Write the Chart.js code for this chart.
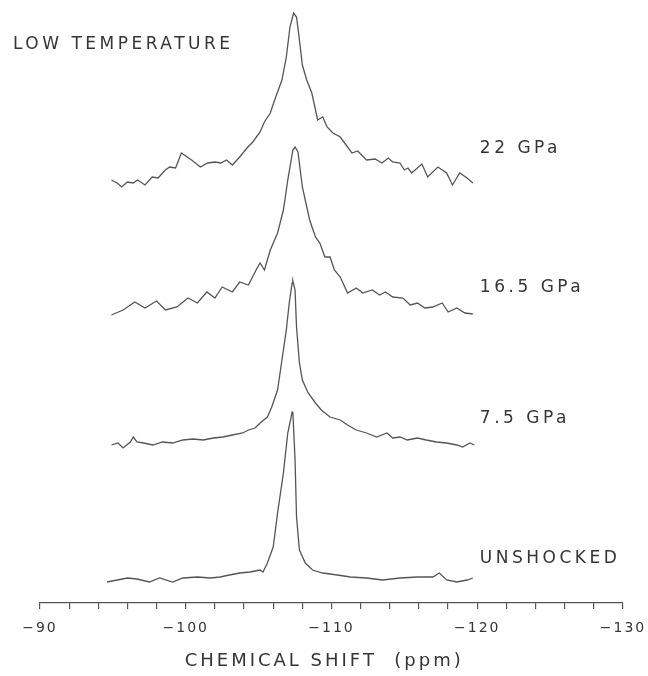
<!DOCTYPE html>
<html>
<head>
<meta charset="utf-8">
<script src="https://cdn.jsdelivr.net/npm/chart.js@4.4.1/dist/chart.umd.min.js"></script>
<style>
  html, body { margin: 0; padding: 0; background: #fff; }
  #wrap { width: 648px; height: 676px; }
</style>
</head>
<body>
<div id="wrap"><canvas id="nmrChart" width="648" height="676"></canvas></div>
<script>
// spectrum names, top to bottom
const names = ['22 GPa', '16.5 GPa', '7.5 GPa', 'UNSHOCKED'];
// vertical offset of each trace (arbitrary intensity units)
const offsets = [420, 288, 158, 22];

// chemical shift (ppm) and intensity (arb. units) for each trace
const ppm22 = [-94.9, -95.3, -95.6, -96.0, -96.4, -96.7, -97.2, -97.7, -98.1, -98.6, -98.9, -99.3, -99.7, -100.1, -100.4,
  -101.0, -101.5, -102.0, -102.4, -102.8, -103.2, -103.7, -104.2, -104.6, -105.1, -105.4, -105.8, -106.1, -106.6, -106.9,
  -107.15, -107.4, -107.6, -107.8, -108.0, -108.3, -108.65, -109.05, -109.4, -109.7, -110.1, -110.6, -110.9, -111.4, -111.8,
  -112.4, -113.0, -113.45, -113.9, -114.2, -114.7, -115.0, -115.25, -115.5, -116.2, -116.6, -117.3, -117.9, -118.3, -118.8,
  -119.3, -119.7];
const int22 = [3, 0, -4, 1, 0, 3, -2, 6, 5, 13, 16, 15, 30, 26, 23,
  16, 20, 21, 20, 23, 18, 26, 35, 41, 51, 61, 70, 83, 103, 126,
  156, 170, 166, 143, 118, 103, 90, 63, 66, 56, 50, 46, 40, 30, 32,
  23, 24, 20, 25, 21, 20, 13, 15, 10, 19, 6, 16, 10, -2, 10,
  5, 0];

const ppm165 = [-94.9, -95.7, -96.5, -97.2, -98.0, -98.6, -99.4, -100.15, -100.8, -101.45, -102.0, -102.5, -103.2, -103.7,
  -104.3, -104.9, -105.1, -105.4, -105.8, -106.3, -106.7, -107.0, -107.35, -107.5, -107.7, -108.0, -108.5, -108.9, -109.2,
  -109.55, -109.9, -110.2, -110.6, -111.1, -111.7, -112.15, -112.8, -113.3, -113.7, -114.2, -114.9, -115.4, -115.9, -116.4,
  -116.95, -117.6, -118.0, -118.6, -119.15, -119.7];
const int165 = [0, 5, 13, 7, 14, 5, 8, 17, 12, 23, 17, 28, 23, 33,
  30, 47, 52, 45, 65, 82, 105, 135, 165, 168, 163, 128, 95, 78, 72,
  58, 58, 45, 38, 22, 27, 22, 25, 20, 23, 18, 17, 10, 12, 7,
  8, 12, 3, 7, 2, 1];

const ppm75 = [-94.9, -95.35, -95.7, -96.2, -96.4, -96.65, -97.1, -97.75, -98.4, -99.1, -99.8, -100.5, -101.2, -101.9,
  -102.55, -103.2, -103.9, -104.3, -104.75, -105.1, -105.6, -105.9, -106.3, -106.6, -106.9, -107.1, -107.3, -107.35, -107.5,
  -107.6, -107.8, -108.0, -108.4, -108.9, -109.3, -109.9, -110.6, -111.1, -111.7, -112.4, -113.1, -113.8, -114.2, -114.7,
  -115.2, -115.9, -116.5, -117.2, -117.9, -118.6, -119.0, -119.5, -119.8];
const int75 = [0, 2, -3, 3, 8, 3, 2, 0, 3, 2, 5, 6, 5, 7,
  8, 10, 12, 15, 17, 22, 28, 38, 55, 85, 115, 142, 162, 164, 155,
  118, 82, 65, 52, 42, 35, 28, 25, 20, 15, 12, 8, 12, 7, 8,
  5, 7, 5, 3, 2, 0, -2, 2, 0];

const ppm0 = [-94.6, -95.3, -96.0, -96.65, -97.5, -98.2, -99.1, -99.8, -100.8, -101.7, -102.35, -103.0, -103.7, -104.4,
  -105.1, -105.3, -105.6, -106.0, -106.3, -106.7, -107.0, -107.3, -107.35, -107.5, -107.6, -107.8, -108.2, -108.7, -109.4,
  -110.4, -111.3, -112.4, -113.5, -114.7, -115.9, -116.95, -117.4, -117.9, -118.6, -119.3, -119.7];
const int0 = [-1, 1, 3, 2, -1, 3, -1, 3, 4, 3, 4, 6, 8, 9,
  11, 9, 18, 34, 68, 108, 148, 169, 168, 121, 64, 31, 18, 11, 8,
  6, 4, 3, 1, 3, 4, 4, 8, 1, -1, 1, 3];

const shifts = [ppm22, ppm165, ppm75, ppm0];
const intensities = [int22, int165, int75, int0];

// axis range and ticks (ppm)
const xMin = -130, xMax = -90, minorStep = 2, majorStep = 10;
const labelPpm = -120.18;
const labelLift = [34, 27, 26, 22];

const INK = '#353535';
const FONT = '"DejaVu Sans", "Liberation Sans", sans-serif';

const datasets = names.map((name, i) => ({
  label: name,
  data: shifts[i].map((p, j) => ({ x: p, y: offsets[i] + intensities[i][j] })),
  borderColor: '#555',
  borderWidth: 1.3,
  pointRadius: 0,
  tension: 0,
  fill: false,
  clip: false
}));

const textPlugin = {
  id: 'nmrText',
  beforeDraw(chart) {
    chart.ctx.letterSpacing = '2px';
  },
  afterDraw(chart) {
    const { ctx, scales: { x, y } } = chart;
    ctx.save();
    ctx.fillStyle = INK;
    ctx.textBaseline = 'middle';
    ctx.textAlign = 'left';
    ctx.font = '17px ' + FONT;
    ctx.letterSpacing = '3.5px';
    names.forEach((n, i) => {
      ctx.fillText(n, x.getPixelForValue(labelPpm), y.getPixelForValue(offsets[i] + labelLift[i]));
    });
    ctx.fillText('LOW TEMPERATURE', 13, 45);
    ctx.textAlign = 'center';
    ctx.font = '18px ' + FONT;
    ctx.letterSpacing = '3px';
    ctx.fillText('CHEMICAL SHIFT  (ppm)', x.getPixelForValue(-109.5), 661);
    ctx.restore();
  }
};

new Chart(document.getElementById('nmrChart'), {
  type: 'line',
  data: { datasets },
  options: {
    responsive: false,
    animation: false,
    layout: { padding: { left: 40, right: 25, top: 0, bottom: 0 } },
    plugins: { legend: { display: false }, tooltip: { enabled: false } },
    scales: {
      x: {
        type: 'linear',
        min: xMin,
        max: xMax,
        reverse: true,
        afterFit(scale) {
          scale.height = 73;
          scale.paddingLeft = 0;
          scale.paddingRight = 0;
        },
        border: { display: true, color: '#555', width: 1.3 },
        grid: { drawOnChartArea: false, drawTicks: true, tickLength: 6, color: '#555', lineWidth: 1.2 },
        ticks: {
          stepSize: minorStep,
          autoSkip: false,
          maxRotation: 0,
          padding: 11,
          color: INK,
          font: { family: FONT, size: 14 },
          callback: v => (v % majorStep === 0 ? '\u2212' + Math.abs(v) : '')
        }
      },
      y: {
        display: false,
        min: 0,
        max: 603
      }
    }
  },
  plugins: [textPlugin]
});
</script>
</body>
</html>
